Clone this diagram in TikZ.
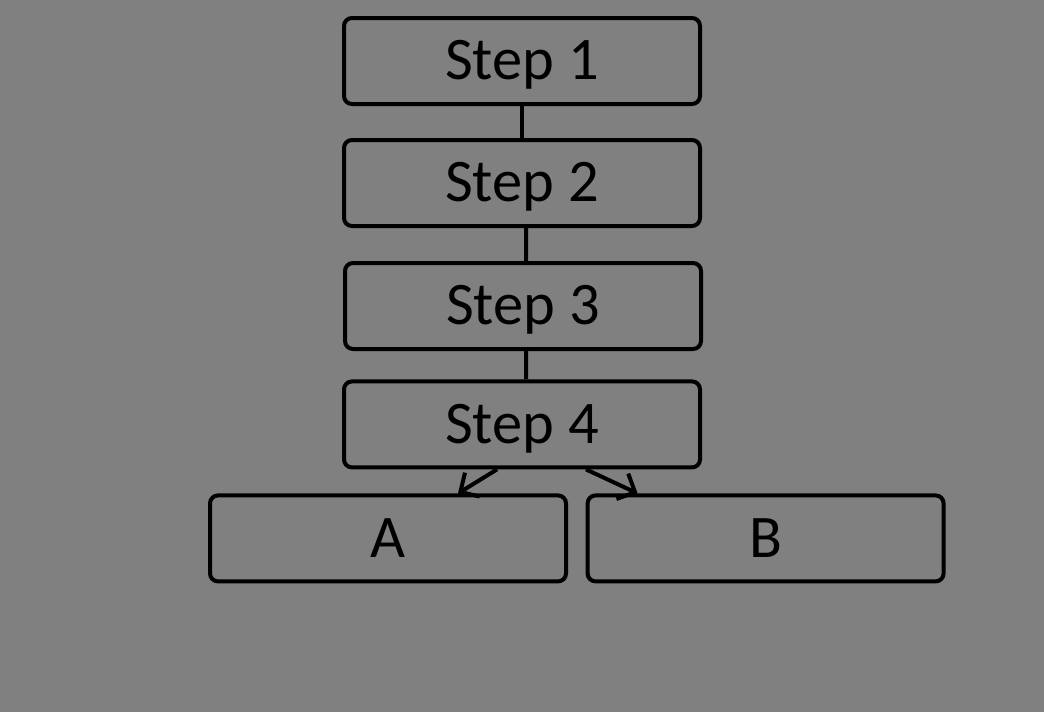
\documentclass[tikz,border=0pt]{standalone}
\usepackage{fontspec}
\setmainfont{Carlito}
\usetikzlibrary{arrows.meta}
\definecolor{bggray}{RGB}{128,128,128}
\begin{document}
\begin{tikzpicture}
		\tikzset{stepbox/.style = {shape=rectangle, draw, rounded corners=0.2cm, line width=0.1cm, minimum width=8.9cm, minimum height=2.15cm, inner sep=0pt, text depth=0.1em, font=\fontsize{43}{50}\selectfont},
			link/.style = {line width=0.1cm},
			branch/.style = {line width=0.1cm, -{Straight Barb[length=0.35cm, width=0.7cm]}}}

		\fill[bggray] (0,0) rectangle (26.1,-17.8);
		\useasboundingbox (0,0) rectangle (26.1,-17.8);

		\node[stepbox] (S_1) at (13.05,-1.525) {Step 1};
		\node[stepbox] (S_2) at (13.05,-4.575) {Step 2};
		\node[stepbox] (S_3) at (13.075,-7.65) {Step 3};
		\node[stepbox] (S_4) at (13.05,-10.61) {Step 4};

		\node[stepbox] (A) at (9.7,-13.46) {A};
		\node[stepbox] (B) at (19.14,-13.46) {B};


		\draw[link] (S_1)--(S_2);
		\draw[link] ([xshift=0.1cm]S_2.south)--([xshift=0.075cm]S_3.north);
		\draw[link] ([xshift=0.075cm]S_3.south)--([xshift=0.1cm]S_4.north);


		\draw[branch] ([xshift=-0.625cm]S_4.south)--([xshift=1.75cm]A.north);
		\draw[branch] ([xshift=1.6cm]S_4.south)--([xshift=-3.2cm]B.north);


	\end{tikzpicture}
\end{document}
